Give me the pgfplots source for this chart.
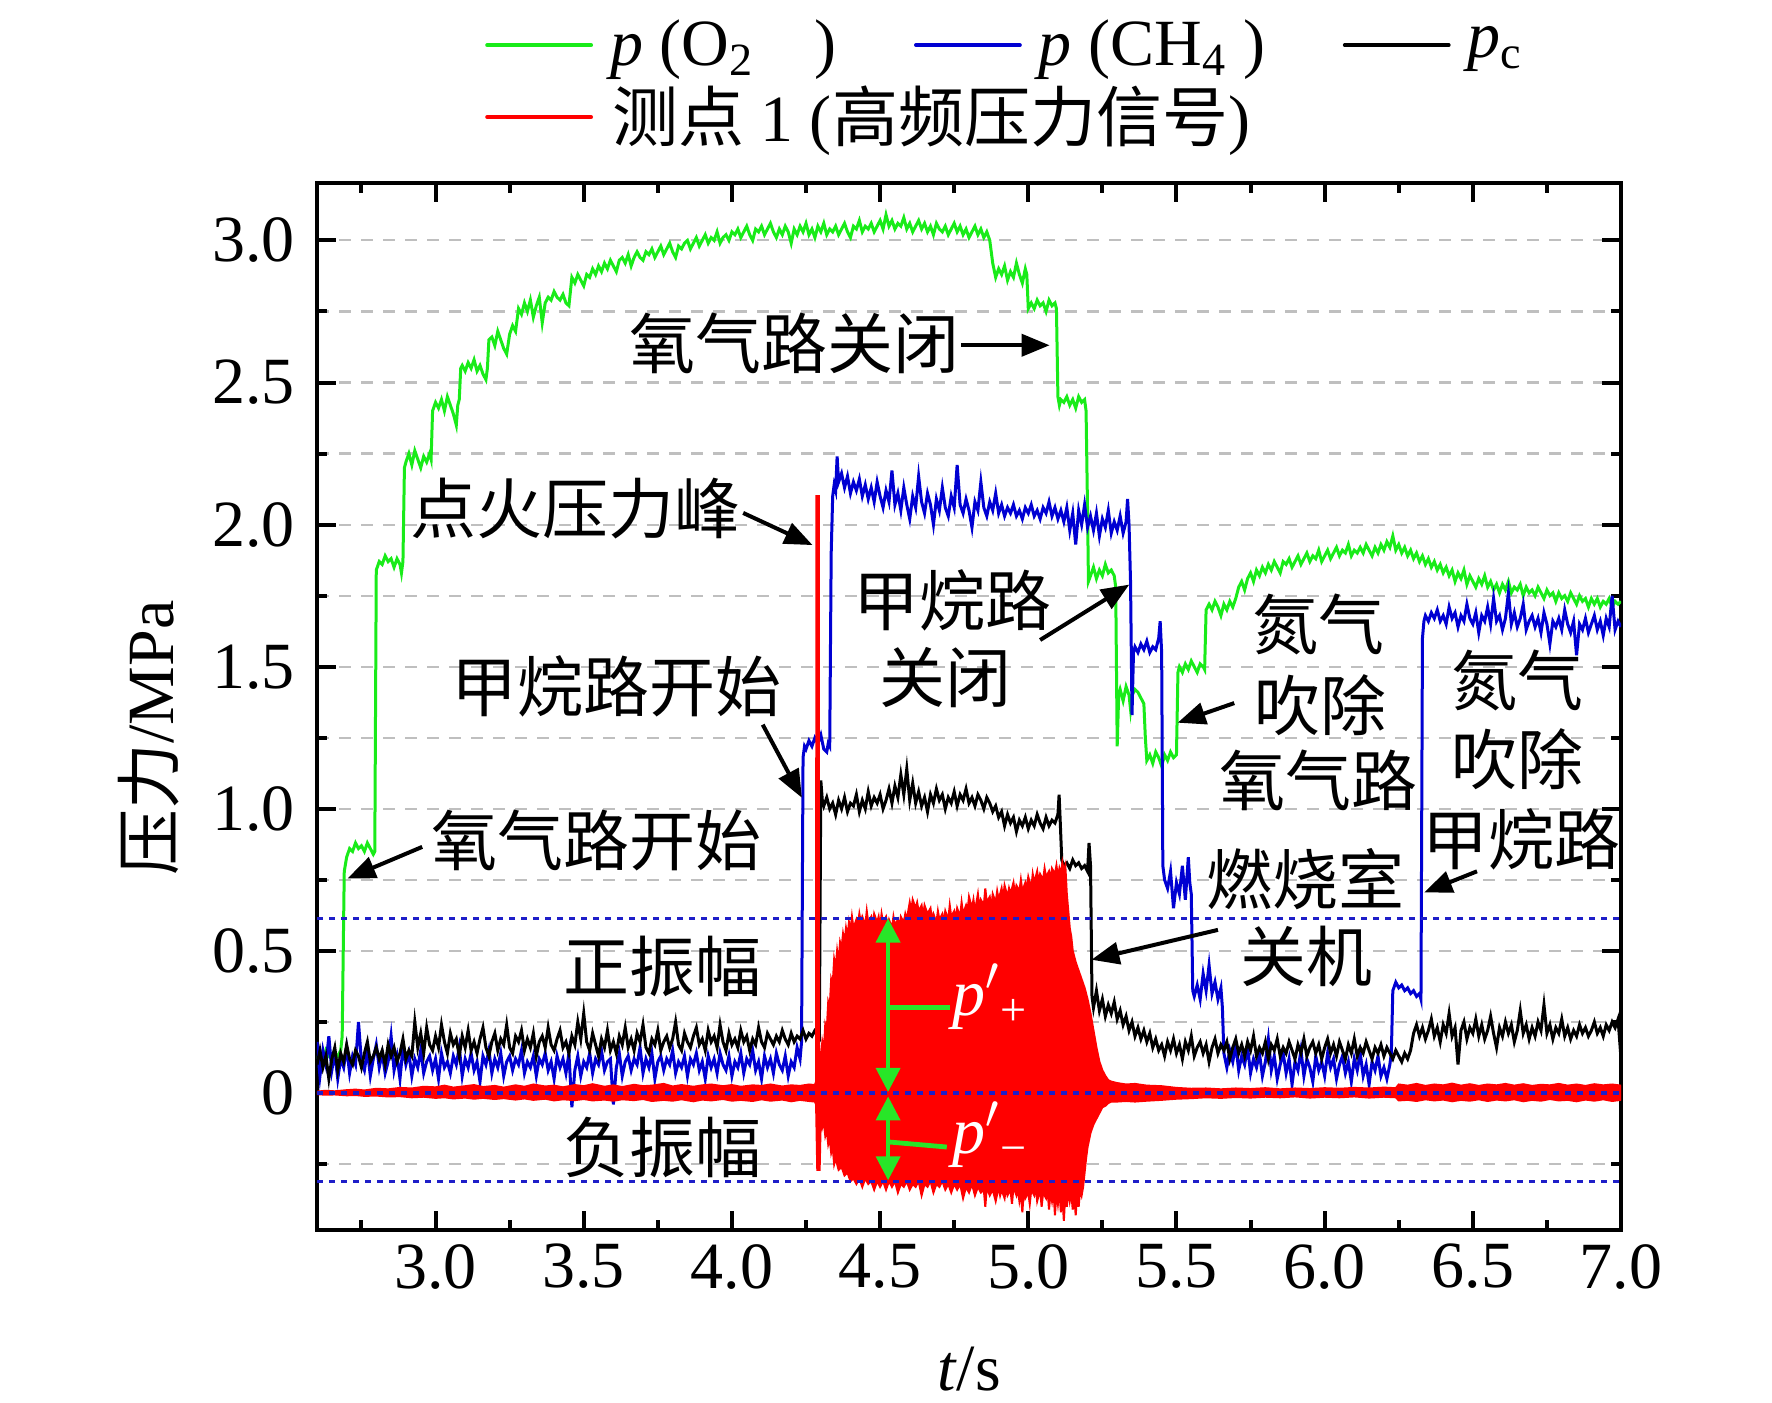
\documentclass[border=0pt]{standalone}
\usepackage{fontspec}
\setmainfont{Liberation Serif}
\newfontfamily\cjk{Noto Sans CJK SC}
\usepackage{pgfplots}
\pgfplotsset{compat=1.18}
\usetikzlibrary{arrows.meta}
\newcommand\fs{\fontsize{16.5}{19.8}\selectfont}
\definecolor{cgreen}{RGB}{25,235,25}
\definecolor{cblue}{RGB}{0,0,210}
\definecolor{cred}{RGB}{255,0,0}
\definecolor{cdot}{RGB}{30,30,200}
\definecolor{agreen}{RGB}{40,230,40}
\begin{document}
\begin{tikzpicture}
\begin{axis}[
  scale only axis, width=326pt, height=261.75pt,
  xmin=2.6, xmax=7.0, ymin=-0.482, ymax=3.202,
  clip mode=individual,
  xtick={3,3.5,4,4.5,5,5.5,6,6.5,7},
  xticklabels={3.0,3.5,4.0,4.5,5.0,5.5,6.0,6.5,7.0},
  ytick={0,0.5,1,1.5,2,2.5,3},
  yticklabels={0,0.5,1.0,1.5,2.0,2.5,3.0},
  minor xtick={2.75,3.25,3.75,4.25,4.75,5.25,5.75,6.25,6.75},
  minor ytick={-0.25,0.25,0.75,1.25,1.75,2.25,2.75},
  tick align=inside, xtick pos=both, ytick pos=both,
  xticklabel pos=bottom, yticklabel pos=left,
  major tick length=4.8pt, minor tick length=2.4pt,
  every tick/.append style={line width=1pt, black},
  axis line style={line width=1.2pt},
  ymajorgrids, yminorgrids,
  major grid style={dash pattern=on 3pt off 2.5pt, gray!50, line width=0.55pt},
  minor grid style={dash pattern=on 3pt off 2.5pt, gray!50, line width=0.55pt},
  tick label style={font=\fs},
  yticklabel style={xshift=-2pt},
  /pgf/number format/assume math mode=true,
  xlabel={\textit{t}/s}, ylabel={{\cjk 压力}/MPa},
  label style={font=\fs},
  xlabel style={at={(axis description cs:0.5,-0.133)}, anchor=center},
  ylabel style={at={(axis description cs:-0.129,0.47)}, anchor=center},
  legend image code/.code={\draw[#1, line cap=round] (0pt,0pt) -- (26pt,0pt);},
  legend columns=3, legend cell align=left,
  legend style={at={(axis description cs:0.1284,1.161)}, anchor=north west,
    draw=none, fill=none, inner sep=0pt, font=\fs, row sep=1.8pt,
    column sep=4.25pt, /tikz/every even column/.append style={column sep=18pt},
    nodes={inner xsep=0pt, inner ysep=1pt}},
]
\addlegendimage{cgreen, line width=0.95pt}
\addlegendentry{\makebox[58pt][l]{\textit{p} (O\textsubscript{2}\hspace{15pt})}}
\addlegendimage{cblue, line width=0.95pt}
\addlegendentry{\makebox[58pt][l]{\textit{p} (CH\textsubscript{4}\hspace{4pt})}}
\addlegendimage{black, line width=0.95pt}
\addlegendentry{\textit{p}\textsubscript{c}}
\addlegendimage{cred, line width=0.95pt}
\addlegendentry{\makebox[0pt][l]{{\cjk 测点} 1 ({\cjk 高频压力信号})}}

% p(O2)
\addplot[cgreen, line width=0.75pt, forget plot] coordinates {
(2.60,0.12)(2.61,0.14)(2.62,0.11)(2.63,0.15)(2.64,0.13)(2.65,0.12)(2.66,0.14)(2.67,0.13)(2.68,0.15)(2.685,0.20)
(2.69,0.62)(2.692,0.78)(2.70,0.83)(2.71,0.86)(2.72,0.85)(2.73,0.88)(2.74,0.86)(2.75,0.87)(2.76,0.85)(2.77,0.88)(2.78,0.86)(2.79,0.84)(2.795,0.85)
(2.80,1.84)(2.81,1.87)(2.82,1.86)(2.83,1.89)(2.84,1.87)(2.85,1.88)(2.86,1.85)(2.87,1.88)(2.88,1.86)(2.885,1.83)(2.89,1.87)
(2.895,2.20)(2.90,2.22)(2.91,2.25)(2.92,2.21)(2.93,2.26)(2.94,2.23)(2.95,2.20)(2.96,2.24)(2.97,2.22)(2.98,2.25)(2.985,2.23)
(2.99,2.40)(3.00,2.43)(3.01,2.41)(3.02,2.44)(3.03,2.40)(3.04,2.45)(3.05,2.42)(3.06,2.39)(3.07,2.35)(3.075,2.42)(3.08,2.44)
(3.085,2.55)(3.09,2.56)(3.10,2.54)(3.11,2.57)(3.12,2.55)(3.13,2.58)(3.14,2.54)(3.15,2.56)(3.16,2.53)(3.17,2.51)(3.175,2.55)
(3.18,2.65)(3.19,2.66)(3.20,2.63)(3.21,2.68)(3.22,2.65)(3.23,2.62)(3.24,2.60)(3.25,2.67)(3.26,2.70)(3.27,2.68)
(3.28,2.76)(3.29,2.74)(3.30,2.78)(3.31,2.75)(3.32,2.79)(3.33,2.73)(3.34,2.77)(3.35,2.80)(3.36,2.71)(3.37,2.78)(3.38,2.80)(3.39,2.79)
(3.40,2.82)(3.41,2.80)(3.42,2.79)(3.43,2.81)(3.44,2.78)(3.45,2.77)(3.46,2.87)(3.47,2.85)(3.48,2.88)(3.49,2.86)(3.50,2.84)
(3.51,2.88)(3.52,2.87)(3.53,2.90)(3.54,2.88)(3.55,2.91)(3.56,2.89)(3.57,2.92)(3.58,2.90)(3.59,2.93)(3.60,2.91)
(3.61,2.89)(3.62,2.93)(3.63,2.94)(3.64,2.92)(3.65,2.95)(3.66,2.91)(3.67,2.94)(3.68,2.96)(3.69,2.94)(3.70,2.93)
(3.71,2.96)(3.72,2.95)(3.73,2.97)(3.74,2.94)(3.75,2.96)(3.76,2.98)(3.77,2.95)(3.78,2.97)(3.79,2.99)(3.80,2.96)
(3.81,2.94)(3.82,2.98)(3.83,2.97)(3.84,2.99)(3.85,3.00)(3.86,2.97)(3.87,2.99)(3.88,3.01)(3.89,2.98)(3.90,3.00)
(3.91,3.02)(3.92,2.99)(3.93,3.01)(3.94,3.00)(3.95,3.03)(3.96,2.99)(3.97,3.01)(3.98,3.02)(3.99,3.00)(4.00,3.03)
(4.01,3.02)(4.02,3.04)(4.03,3.01)(4.04,3.03)(4.05,3.05)(4.06,3.02)(4.07,3.00)(4.08,3.04)(4.09,3.03)(4.10,3.05)
(4.11,3.02)(4.12,3.04)(4.13,3.06)(4.14,3.03)(4.15,3.01)(4.16,3.04)(4.17,3.02)(4.18,3.05)(4.19,3.03)(4.20,2.99)
(4.21,3.04)(4.22,3.02)(4.23,3.05)(4.24,3.03)(4.25,3.06)(4.26,3.02)(4.27,3.04)(4.28,3.01)(4.29,3.05)(4.30,3.03)
(4.31,3.06)(4.32,3.02)(4.33,3.04)(4.34,3.03)(4.35,3.05)(4.36,3.02)(4.37,3.04)(4.38,3.06)(4.39,3.03)(4.40,3.01)
(4.41,3.05)(4.42,3.04)(4.43,3.07)(4.44,3.03)(4.45,3.05)(4.46,3.04)(4.47,3.06)(4.48,3.03)(4.49,3.05)(4.50,3.07)
(4.51,3.04)(4.52,3.09)(4.53,3.05)(4.54,3.07)(4.55,3.04)(4.56,3.06)(4.57,3.05)(4.58,3.08)(4.59,3.04)(4.60,3.06)
(4.61,3.03)(4.62,3.05)(4.63,3.07)(4.64,3.04)(4.65,3.06)(4.66,3.03)(4.67,3.05)(4.68,3.02)(4.69,3.06)(4.70,3.04)
(4.71,3.03)(4.72,3.05)(4.73,3.02)(4.74,3.04)(4.75,3.06)(4.76,3.03)(4.77,3.05)(4.78,3.02)(4.79,3.04)(4.80,3.01)
(4.81,3.03)(4.82,3.05)(4.83,3.02)(4.84,3.04)(4.85,3.01)(4.86,3.03)(4.87,3.00)(4.875,2.96)(4.88,2.92)(4.89,2.87)
(4.90,2.90)(4.91,2.88)(4.92,2.91)(4.93,2.86)(4.94,2.89)(4.95,2.87)(4.96,2.92)(4.97,2.88)(4.98,2.85)(4.99,2.90)(4.995,2.88)
(5.00,2.76)(5.01,2.78)(5.02,2.76)(5.03,2.79)(5.04,2.77)(5.05,2.78)(5.06,2.75)(5.07,2.79)(5.08,2.77)(5.09,2.78)(5.095,2.76)
(5.10,2.45)(5.105,2.42)(5.11,2.44)(5.12,2.43)(5.13,2.45)(5.14,2.42)(5.15,2.44)(5.16,2.41)(5.17,2.45)(5.18,2.43)(5.19,2.44)(5.195,2.40)
(5.20,2.05)(5.203,1.80)(5.21,1.82)(5.22,1.85)(5.23,1.81)(5.24,1.84)(5.25,1.82)(5.26,1.86)(5.27,1.83)(5.28,1.84)(5.29,1.82)(5.295,1.78)
(5.30,1.22)(5.305,1.40)(5.31,1.42)(5.32,1.38)(5.33,1.43)(5.34,1.40)(5.345,1.35)(5.35,1.40)(5.36,1.42)(5.37,1.41)(5.38,1.39)(5.39,1.37)
(5.395,1.25)(5.40,1.17)(5.41,1.19)(5.42,1.16)(5.43,1.20)(5.44,1.18)(5.45,1.15)(5.46,1.19)(5.47,1.17)(5.48,1.20)(5.49,1.18)(5.50,1.19)
(5.505,1.48)(5.51,1.50)(5.52,1.48)(5.53,1.51)(5.54,1.49)(5.55,1.52)(5.56,1.50)(5.57,1.48)(5.58,1.51)(5.59,1.50)(5.595,1.49)
(5.60,1.70)(5.61,1.72)(5.62,1.70)(5.63,1.73)(5.64,1.71)(5.65,1.68)(5.66,1.72)(5.67,1.70)(5.68,1.73)(5.69,1.71)(5.70,1.74)
(5.71,1.78)(5.72,1.80)(5.73,1.77)(5.74,1.81)(5.75,1.83)(5.76,1.80)(5.77,1.84)(5.78,1.82)(5.79,1.85)(5.80,1.83)
(5.81,1.86)(5.82,1.84)(5.83,1.87)(5.84,1.85)(5.85,1.83)(5.86,1.87)(5.87,1.86)(5.88,1.88)(5.89,1.85)(5.90,1.87)
(5.91,1.89)(5.92,1.86)(5.93,1.88)(5.94,1.90)(5.95,1.87)(5.96,1.89)(5.97,1.88)(5.98,1.91)(5.99,1.87)(6.00,1.89)
(6.01,1.91)(6.02,1.88)(6.03,1.90)(6.04,1.92)(6.05,1.89)(6.06,1.91)(6.07,1.90)(6.08,1.93)(6.09,1.89)(6.10,1.91)
(6.11,1.90)(6.12,1.92)(6.13,1.90)(6.14,1.93)(6.15,1.91)(6.16,1.89)(6.17,1.92)(6.18,1.90)(6.19,1.93)(6.20,1.91)
(6.21,1.94)(6.22,1.92)(6.23,1.96)(6.24,1.91)(6.25,1.93)(6.26,1.90)(6.27,1.92)(6.28,1.89)(6.29,1.91)(6.30,1.88)
(6.31,1.90)(6.32,1.87)(6.33,1.89)(6.34,1.86)(6.35,1.88)(6.36,1.85)(6.37,1.87)(6.38,1.84)(6.39,1.86)(6.40,1.83)
(6.41,1.85)(6.42,1.82)(6.43,1.84)(6.44,1.80)(6.45,1.83)(6.46,1.81)(6.47,1.84)(6.48,1.79)(6.49,1.82)(6.50,1.80)
(6.51,1.78)(6.52,1.81)(6.53,1.79)(6.54,1.82)(6.55,1.78)(6.56,1.80)(6.57,1.77)(6.58,1.79)(6.59,1.76)(6.60,1.79)
(6.61,1.77)(6.62,1.80)(6.63,1.76)(6.64,1.78)(6.65,1.77)(6.66,1.79)(6.67,1.75)(6.68,1.78)(6.69,1.76)(6.70,1.77)
(6.71,1.75)(6.72,1.78)(6.73,1.76)(6.74,1.74)(6.75,1.77)(6.76,1.75)(6.77,1.76)(6.78,1.73)(6.79,1.76)(6.80,1.74)
(6.81,1.75)(6.82,1.73)(6.83,1.76)(6.84,1.74)(6.85,1.72)(6.86,1.75)(6.87,1.73)(6.88,1.74)(6.89,1.71)(6.90,1.74)
(6.91,1.72)(6.92,1.74)(6.93,1.71)(6.94,1.73)(6.95,1.72)(6.96,1.74)(6.97,1.71)(6.98,1.73)(6.99,1.72)(7.00,1.73)
};

% p(CH4)
\addplot[cblue, line width=0.75pt, forget plot] coordinates {
(2.60,0.18)(2.61,0.06)(2.62,0.15)(2.63,0.10)(2.64,0.20)(2.65,0.08)(2.66,0.14)(2.67,0.05)(2.68,0.12)(2.69,0.09)
(2.70,0.16)(2.71,0.07)(2.72,0.13)(2.73,0.10)(2.74,0.25)(2.75,0.11)(2.76,0.08)(2.77,0.15)(2.78,0.06)(2.79,0.12)
(2.80,0.17)(2.81,0.09)(2.82,0.14)(2.83,0.07)(2.84,0.11)(2.85,0.20)(2.86,0.08)(2.87,0.13)(2.88,0.05)(2.89,0.16)
(2.90,0.10)(2.91,0.14)(2.92,0.06)(2.93,0.12)(2.94,0.09)(2.95,0.15)(2.96,0.07)(2.97,0.11)(2.98,0.13)(2.99,0.08)
(3.00,0.12)(3.01,0.05)(3.02,0.14)(3.03,0.09)(3.04,0.11)(3.05,0.07)(3.06,0.13)(3.07,0.10)(3.08,0.16)(3.09,0.06)
(3.10,0.12)(3.11,0.09)(3.12,0.14)(3.13,0.08)(3.14,0.11)(3.15,0.04)(3.16,0.13)(3.17,0.10)(3.18,0.15)(3.19,0.07)
(3.20,0.12)(3.21,0.09)(3.22,0.14)(3.23,0.06)(3.24,0.11)(3.25,0.13)(3.26,0.08)(3.27,0.12)(3.28,0.10)(3.29,0.15)
(3.30,0.07)(3.31,0.11)(3.32,0.09)(3.33,0.13)(3.34,0.06)(3.35,0.12)(3.36,0.10)(3.37,0.14)(3.38,0.08)(3.39,0.11)
(3.40,0.05)(3.41,0.13)(3.42,0.09)(3.43,0.12)(3.44,0.07)(3.45,0.14)(3.46,-0.05)(3.47,0.08)(3.48,0.13)(3.49,0.06)
(3.50,0.11)(3.51,0.09)(3.52,0.14)(3.53,0.07)(3.54,0.12)(3.55,0.10)(3.56,0.15)(3.57,0.08)(3.58,0.11)(3.59,0.12)
(3.60,-0.04)(3.61,0.09)(3.62,0.14)(3.63,0.06)(3.64,0.11)(3.65,0.13)(3.66,0.08)(3.67,0.12)(3.68,0.10)(3.69,0.16)
(3.70,0.07)(3.71,0.12)(3.72,0.09)(3.73,0.14)(3.74,0.05)(3.75,0.11)(3.76,0.13)(3.77,0.08)(3.78,0.12)(3.79,0.10)
(3.80,0.15)(3.81,0.07)(3.82,0.11)(3.83,0.09)(3.84,0.13)(3.85,0.06)(3.86,0.12)(3.87,0.10)(3.88,0.14)(3.89,0.08)
(3.90,0.11)(3.91,0.05)(3.92,0.13)(3.93,0.09)(3.94,0.12)(3.95,0.07)(3.96,0.14)(3.97,0.10)(3.98,0.08)(3.99,0.13)
(4.00,0.06)(4.01,0.11)(4.02,0.09)(4.03,0.14)(4.04,0.07)(4.05,0.12)(4.06,0.10)(4.07,0.15)(4.08,0.08)(4.09,0.11)
(4.10,0.05)(4.11,0.13)(4.12,0.09)(4.13,0.12)(4.14,0.07)(4.15,0.14)(4.16,0.10)(4.17,0.08)(4.18,0.13)(4.19,0.06)
(4.20,0.11)(4.21,0.09)(4.22,0.16)(4.23,0.12)(4.235,0.18)
(4.24,1.18)(4.245,1.22)(4.25,1.21)(4.26,1.24)(4.27,1.22)(4.28,1.25)(4.29,1.23)(4.30,1.26)(4.31,1.21)(4.32,1.20)(4.325,1.23)(4.33,1.22)
(4.335,1.90)(4.34,2.10)(4.345,2.14)(4.35,2.12)(4.355,2.24)(4.36,2.15)(4.37,2.18)(4.38,2.13)(4.39,2.17)(4.40,2.11)
(4.41,2.15)(4.42,2.12)(4.43,2.16)(4.44,2.10)(4.45,2.14)(4.46,2.09)(4.47,2.13)(4.48,2.08)(4.49,2.15)(4.50,2.10)
(4.51,2.06)(4.52,2.12)(4.53,2.08)(4.54,2.19)(4.55,2.07)(4.56,2.11)(4.57,2.05)(4.58,2.13)(4.59,2.07)(4.60,2.02)
(4.61,2.10)(4.62,2.06)(4.63,2.17)(4.64,2.08)(4.65,2.04)(4.66,2.11)(4.67,2.07)(4.68,2.00)(4.69,2.09)(4.70,2.05)
(4.71,2.13)(4.72,2.06)(4.73,2.03)(4.74,2.10)(4.75,2.06)(4.76,2.21)(4.77,2.07)(4.78,2.04)(4.79,2.09)(4.80,2.05)
(4.81,1.99)(4.82,2.08)(4.83,2.05)(4.84,2.15)(4.85,2.06)(4.86,2.03)(4.87,2.08)(4.88,2.05)(4.89,2.11)(4.90,2.04)
(4.91,2.07)(4.92,2.03)(4.93,2.06)(4.94,2.04)(4.95,2.07)(4.96,2.03)(4.97,2.05)(4.98,2.02)(4.99,2.06)(5.00,2.04)
(5.01,2.07)(5.02,2.03)(5.03,2.05)(5.04,2.02)(5.05,2.06)(5.06,2.04)(5.07,2.08)(5.08,2.03)(5.09,2.06)(5.10,2.02)
(5.11,2.05)(5.12,2.01)(5.13,2.06)(5.14,1.98)(5.15,2.04)(5.16,1.93)(5.17,2.05)(5.18,2.00)(5.19,2.07)(5.20,1.99)
(5.21,2.03)(5.22,1.98)(5.23,2.04)(5.24,1.96)(5.25,2.02)(5.26,1.99)(5.27,2.05)(5.28,1.97)(5.29,2.01)(5.30,1.98)
(5.31,2.03)(5.32,1.97)(5.33,2.01)(5.335,2.09)(5.34,2.00)(5.345,1.80)
(5.35,1.33)(5.355,1.55)(5.36,1.57)(5.37,1.55)(5.38,1.58)(5.39,1.56)(5.40,1.59)(5.41,1.55)(5.42,1.57)(5.43,1.56)(5.44,1.60)(5.445,1.66)(5.45,1.55)
(5.454,0.80)(5.46,0.75)(5.47,0.72)(5.48,0.78)(5.49,0.65)(5.50,0.74)(5.51,0.70)(5.52,0.80)(5.53,0.68)(5.54,0.83)(5.545,0.74)(5.55,0.70)
(5.555,0.36)(5.56,0.34)(5.57,0.38)(5.58,0.33)(5.59,0.42)(5.60,0.36)(5.61,0.45)(5.62,0.35)(5.63,0.39)(5.64,0.33)(5.65,0.37)(5.655,0.30)
(5.66,0.14)(5.67,0.09)(5.68,0.15)(5.69,0.11)(5.70,0.17)(5.71,0.08)(5.72,0.13)(5.73,0.10)(5.74,0.16)(5.75,0.07)
(5.76,0.12)(5.77,0.09)(5.78,0.14)(5.79,0.06)(5.80,0.11)(5.81,0.19)(5.82,0.08)(5.83,0.13)(5.84,0.05)(5.85,0.10)
(5.86,0.14)(5.87,0.07)(5.88,0.12)(5.89,0.03)(5.90,0.11)(5.91,0.08)(5.92,0.15)(5.93,0.06)(5.94,0.12)(5.95,0.09)
(5.96,0.04)(5.97,0.13)(5.98,0.08)(5.99,0.11)(6.00,0.06)(6.01,0.14)(6.02,0.09)(6.03,0.12)(6.04,0.05)(6.05,0.10)
(6.06,0.13)(6.07,0.07)(6.08,0.11)(6.09,0.04)(6.10,0.12)(6.11,0.08)(6.12,0.14)(6.13,0.06)(6.14,0.10)(6.15,0.03)
(6.16,0.11)(6.17,0.08)(6.18,0.13)(6.19,0.06)(6.20,0.09)(6.21,0.05)(6.22,0.10)(6.225,0.14)
(6.23,0.36)(6.24,0.39)(6.25,0.37)(6.26,0.38)(6.27,0.36)(6.28,0.37)(6.29,0.35)(6.30,0.36)(6.31,0.34)(6.32,0.35)(6.325,0.33)
(6.33,1.60)(6.335,1.66)(6.34,1.68)(6.35,1.66)(6.36,1.69)(6.37,1.67)(6.38,1.70)(6.39,1.66)(6.40,1.68)(6.41,1.65)
(6.42,1.71)(6.43,1.67)(6.44,1.69)(6.45,1.64)(6.46,1.68)(6.47,1.66)(6.48,1.72)(6.49,1.67)(6.50,1.65)(6.51,1.69)
(6.52,1.62)(6.53,1.68)(6.54,1.66)(6.55,1.71)(6.56,1.65)(6.57,1.74)(6.58,1.66)(6.59,1.68)(6.60,1.63)(6.61,1.67)
(6.62,1.76)(6.63,1.65)(6.64,1.69)(6.65,1.64)(6.66,1.67)(6.67,1.72)(6.68,1.63)(6.69,1.66)(6.70,1.68)(6.71,1.64)
(6.72,1.67)(6.73,1.62)(6.74,1.69)(6.75,1.65)(6.76,1.58)(6.77,1.66)(6.78,1.64)(6.79,1.67)(6.80,1.63)(6.81,1.70)
(6.82,1.65)(6.83,1.62)(6.84,1.66)(6.85,1.54)(6.86,1.65)(6.87,1.63)(6.88,1.67)(6.89,1.62)(6.90,1.65)(6.91,1.68)
(6.92,1.63)(6.93,1.66)(6.94,1.61)(6.95,1.67)(6.96,1.64)(6.97,1.75)(6.98,1.63)(6.99,1.66)(7.00,1.64)
};

% p_c
\addplot[black, line width=0.75pt, forget plot] coordinates {
(2.60,0.10)(2.61,0.15)(2.62,0.09)(2.63,0.13)(2.64,0.05)(2.65,0.12)(2.66,0.16)(2.67,0.08)(2.68,0.14)(2.69,0.11)
(2.70,0.17)(2.71,0.12)(2.72,0.10)(2.73,0.15)(2.74,0.13)(2.75,0.09)(2.76,0.14)(2.77,0.18)(2.78,0.11)(2.79,0.13)
(2.80,0.16)(2.81,0.12)(2.82,0.15)(2.83,0.10)(2.84,0.17)(2.85,0.13)(2.86,0.16)(2.87,0.11)(2.88,0.14)(2.89,0.19)
(2.90,0.12)(2.91,0.15)(2.92,0.13)(2.93,0.25)(2.94,0.16)(2.95,0.21)(2.96,0.14)(2.97,0.23)(2.98,0.17)(2.99,0.15)
(3.00,0.20)(3.01,0.16)(3.02,0.24)(3.03,0.18)(3.04,0.14)(3.05,0.21)(3.06,0.17)(3.07,0.19)(3.08,0.13)(3.09,0.20)
(3.10,0.16)(3.11,0.22)(3.12,0.15)(3.13,0.18)(3.14,0.14)(3.15,0.19)(3.16,0.23)(3.17,0.16)(3.18,0.13)(3.19,0.18)
(3.20,0.21)(3.21,0.15)(3.22,0.19)(3.23,0.17)(3.24,0.24)(3.25,0.16)(3.26,0.14)(3.27,0.20)(3.28,0.18)(3.29,0.22)
(3.30,0.15)(3.31,0.19)(3.32,0.16)(3.33,0.21)(3.34,0.13)(3.35,0.18)(3.36,0.20)(3.37,0.16)(3.38,0.23)(3.39,0.17)
(3.40,0.15)(3.41,0.19)(3.42,0.22)(3.43,0.16)(3.44,0.18)(3.45,0.14)(3.46,0.20)(3.47,0.17)(3.48,0.25)(3.49,0.19)
(3.50,0.28)(3.51,0.18)(3.52,0.15)(3.53,0.21)(3.54,0.17)(3.55,0.13)(3.56,0.19)(3.57,0.16)(3.58,0.22)(3.59,0.15)
(3.60,0.18)(3.61,0.14)(3.62,0.20)(3.63,0.17)(3.64,0.23)(3.65,0.16)(3.66,0.19)(3.67,0.15)(3.68,0.21)(3.69,0.18)
(3.70,0.24)(3.71,0.16)(3.72,0.14)(3.73,0.19)(3.74,0.17)(3.75,0.22)(3.76,0.15)(3.77,0.18)(3.78,0.20)(3.79,0.16)
(3.80,0.19)(3.81,0.25)(3.82,0.17)(3.83,0.15)(3.84,0.21)(3.85,0.18)(3.86,0.16)(3.87,0.20)(3.88,0.23)(3.89,0.17)
(3.90,0.19)(3.91,0.15)(3.92,0.22)(3.93,0.18)(3.94,0.20)(3.95,0.16)(3.96,0.24)(3.97,0.18)(3.98,0.15)(3.99,0.21)
(4.00,0.17)(4.01,0.19)(4.02,0.16)(4.03,0.22)(4.04,0.18)(4.05,0.20)(4.06,0.15)(4.07,0.19)(4.08,0.17)(4.09,0.23)
(4.10,0.18)(4.11,0.16)(4.12,0.21)(4.13,0.19)(4.14,0.17)(4.15,0.20)(4.16,0.18)(4.17,0.22)(4.18,0.19)(4.19,0.17)
(4.20,0.21)(4.21,0.18)(4.22,0.20)(4.23,0.19)(4.24,0.22)(4.25,0.19)(4.26,0.21)(4.27,0.20)(4.28,0.22)(4.29,0.21)(4.295,0.20)
(4.30,1.10)(4.305,1.03)(4.31,1.01)(4.32,1.04)(4.33,1.00)(4.34,1.02)(4.35,0.98)(4.36,1.03)(4.37,1.00)(4.38,1.04)
(4.39,0.99)(4.40,1.02)(4.41,1.01)(4.42,1.05)(4.43,0.99)(4.44,1.03)(4.45,1.00)(4.46,1.06)(4.47,1.01)(4.48,1.04)
(4.49,1.02)(4.50,1.05)(4.51,1.00)(4.52,1.03)(4.53,1.07)(4.54,1.02)(4.55,1.08)(4.56,1.04)(4.57,1.12)(4.58,1.05)
(4.59,1.14)(4.60,1.03)(4.61,1.09)(4.62,1.02)(4.63,1.06)(4.64,1.01)(4.65,1.04)(4.66,0.99)(4.67,1.05)(4.68,1.02)
(4.69,1.07)(4.70,1.03)(4.71,1.05)(4.72,1.00)(4.73,1.04)(4.74,1.02)(4.75,1.06)(4.76,1.01)(4.77,1.05)(4.78,1.03)
(4.79,1.07)(4.80,1.02)(4.81,1.04)(4.82,1.01)(4.83,1.05)(4.84,1.03)(4.85,1.00)(4.86,1.04)(4.87,1.02)(4.88,0.99)
(4.89,1.01)(4.90,0.97)(4.91,0.99)(4.92,0.94)(4.93,0.98)(4.94,0.95)(4.95,0.97)(4.96,0.92)(4.97,0.96)(4.98,0.94)
(4.99,0.97)(5.00,0.93)(5.01,0.96)(5.02,0.94)(5.03,0.98)(5.04,0.95)(5.05,0.93)(5.06,0.97)(5.07,0.94)(5.08,0.96)
(5.09,0.95)(5.10,0.98)(5.104,1.05)(5.108,0.95)
(5.113,0.82)(5.12,0.80)(5.13,0.81)(5.14,0.79)(5.15,0.82)(5.16,0.80)(5.17,0.81)(5.18,0.79)(5.19,0.80)(5.20,0.78)(5.205,0.88)(5.21,0.80)
(5.215,0.34)(5.22,0.30)(5.23,0.36)(5.24,0.29)(5.25,0.33)(5.26,0.27)(5.27,0.31)(5.28,0.28)(5.29,0.32)(5.30,0.26)
(5.31,0.29)(5.32,0.24)(5.33,0.27)(5.34,0.22)(5.35,0.25)(5.36,0.20)(5.37,0.23)(5.38,0.19)(5.39,0.22)(5.40,0.18)
(5.41,0.21)(5.42,0.16)(5.43,0.19)(5.44,0.15)(5.45,0.17)(5.46,0.13)(5.47,0.18)(5.48,0.15)(5.49,0.19)(5.50,0.14)
(5.51,0.17)(5.52,0.12)(5.53,0.18)(5.54,0.15)(5.55,0.20)(5.56,0.13)(5.57,0.16)(5.58,0.18)(5.59,0.14)(5.60,0.17)
(5.61,0.11)(5.62,0.16)(5.63,0.19)(5.64,0.14)(5.65,0.17)(5.66,0.15)(5.67,0.18)(5.68,0.12)(5.69,0.16)(5.70,0.19)
(5.71,0.14)(5.72,0.17)(5.73,0.13)(5.74,0.18)(5.75,0.15)(5.76,0.20)(5.77,0.13)(5.78,0.16)(5.79,0.14)(5.80,0.18)
(5.81,0.12)(5.82,0.17)(5.83,0.15)(5.84,0.19)(5.85,0.13)(5.86,0.16)(5.87,0.14)(5.88,0.18)(5.89,0.15)(5.90,0.12)
(5.91,0.17)(5.92,0.14)(5.93,0.19)(5.94,0.13)(5.95,0.16)(5.96,0.18)(5.97,0.14)(5.98,0.17)(5.99,0.12)(6.00,0.16)
(6.01,0.19)(6.02,0.14)(6.03,0.17)(6.04,0.13)(6.05,0.18)(6.06,0.15)(6.07,0.12)(6.08,0.17)(6.09,0.14)(6.10,0.19)
(6.11,0.13)(6.12,0.16)(6.13,0.14)(6.14,0.18)(6.15,0.15)(6.16,0.12)(6.17,0.16)(6.18,0.14)(6.19,0.17)(6.20,0.13)
(6.21,0.16)(6.22,0.14)(6.23,0.12)(6.24,0.15)(6.25,0.13)(6.26,0.11)(6.27,0.14)(6.28,0.12)(6.29,0.15)(6.30,0.21)
(6.31,0.24)(6.32,0.20)(6.33,0.23)(6.34,0.19)(6.35,0.22)(6.36,0.26)(6.37,0.20)(6.38,0.23)(6.39,0.18)(6.40,0.24)
(6.41,0.21)(6.42,0.28)(6.43,0.20)(6.44,0.23)(6.45,0.10)(6.46,0.22)(6.47,0.25)(6.48,0.19)(6.49,0.23)(6.50,0.21)
(6.51,0.26)(6.52,0.20)(6.53,0.24)(6.54,0.19)(6.55,0.22)(6.56,0.27)(6.57,0.21)(6.58,0.16)(6.59,0.23)(6.60,0.20)
(6.61,0.25)(6.62,0.21)(6.63,0.24)(6.64,0.18)(6.65,0.22)(6.66,0.29)(6.67,0.21)(6.68,0.24)(6.69,0.19)(6.70,0.23)
(6.71,0.20)(6.72,0.25)(6.73,0.22)(6.74,0.31)(6.75,0.21)(6.76,0.24)(6.77,0.19)(6.78,0.23)(6.79,0.21)(6.80,0.26)
(6.81,0.20)(6.82,0.23)(6.83,0.19)(6.84,0.22)(6.85,0.20)(6.86,0.24)(6.87,0.21)(6.88,0.23)(6.89,0.20)(6.90,0.22)
(6.91,0.25)(6.92,0.21)(6.93,0.23)(6.94,0.20)(6.95,0.24)(6.96,0.22)(6.97,0.25)(6.98,0.23)(6.99,0.26)(7.00,0.12)
};

% high-frequency pressure signal (envelope of the oscillation)
\addplot[cred, fill=cred, line width=0.5pt, forget plot] coordinates {
(2.60,0.005)(2.63,0.008)(2.66,0.006)(2.70,0.010)(2.73,0.012)(2.76,0.009)(2.80,0.015)(2.84,0.013)(2.88,0.018)(2.92,0.016)
(2.96,0.022)(3.00,0.020)(3.03,0.026)(3.06,0.019)(3.10,0.024)(3.13,0.028)(3.16,0.021)(3.20,0.025)(3.23,0.019)(3.27,0.027)
(3.30,0.022)(3.33,0.030)(3.37,0.023)(3.40,0.026)(3.43,0.020)(3.47,0.028)(3.50,0.024)(3.53,0.031)(3.57,0.022)(3.60,0.027)
(3.63,0.021)(3.67,0.029)(3.70,0.024)(3.73,0.026)(3.77,0.032)(3.80,0.023)(3.83,0.028)(3.87,0.022)(3.90,0.027)(3.93,0.030)
(3.97,0.024)(4.00,0.028)(4.03,0.022)(4.07,0.027)(4.10,0.025)(4.13,0.030)(4.17,0.023)(4.20,0.027)(4.23,0.025)(4.26,0.030)
(4.280,0.028)(4.284,0.04)(4.285,2.10)(4.293,2.10)(4.294,0.08)
(4.30,0.12)(4.305,0.18)(4.31,0.15)(4.315,0.24)(4.32,0.22)(4.325,0.32)(4.33,0.30)(4.335,0.40)(4.34,0.38)(4.345,0.47)
(4.35,0.44)(4.355,0.50)(4.36,0.46)(4.365,0.53)(4.37,0.51)(4.375,0.56)(4.38,0.53)(4.385,0.58)(4.39,0.55)(4.395,0.60)
(4.40,0.57)(4.405,0.62)(4.41,0.58)(4.42,0.61)(4.425,0.59)(4.43,0.63)(4.435,0.60)(4.44,0.62)(4.45,0.59)(4.455,0.64)
(4.46,0.60)(4.47,0.62)(4.475,0.59)(4.48,0.63)(4.49,0.60)(4.495,0.62)(4.50,0.58)(4.505,0.63)(4.51,0.60)(4.52,0.62)
(4.525,0.59)(4.53,0.61)(4.54,0.58)(4.545,0.62)(4.55,0.59)(4.56,0.61)(4.565,0.58)(4.57,0.62)(4.58,0.60)(4.585,0.63)
(4.59,0.61)(4.60,0.67)(4.605,0.64)(4.61,0.68)(4.62,0.65)(4.625,0.67)(4.63,0.64)(4.64,0.66)(4.645,0.62)(4.65,0.66)
(4.66,0.63)(4.67,0.65)(4.675,0.61)(4.68,0.63)(4.69,0.60)(4.695,0.64)(4.70,0.61)(4.71,0.63)(4.715,0.60)(4.72,0.64)
(4.73,0.61)(4.735,0.66)(4.74,0.62)(4.75,0.64)(4.755,0.61)(4.76,0.65)(4.77,0.62)(4.775,0.67)(4.78,0.63)(4.79,0.66)
(4.795,0.64)(4.80,0.69)(4.81,0.65)(4.815,0.68)(4.82,0.64)(4.83,0.70)(4.835,0.65)(4.84,0.68)(4.85,0.66)(4.855,0.72)
(4.86,0.67)(4.87,0.69)(4.875,0.65)(4.88,0.70)(4.89,0.67)(4.895,0.71)(4.90,0.68)(4.91,0.72)(4.915,0.68)(4.92,0.73)
(4.93,0.69)(4.935,0.72)(4.94,0.70)(4.95,0.74)(4.955,0.70)(4.96,0.73)(4.97,0.71)(4.975,0.75)(4.98,0.71)(4.99,0.74)
(4.995,0.72)(5.00,0.76)(5.01,0.72)(5.015,0.77)(5.02,0.74)(5.03,0.78)(5.035,0.74)(5.04,0.77)(5.05,0.75)(5.055,0.79)
(5.06,0.76)(5.07,0.78)(5.075,0.75)(5.08,0.79)(5.09,0.77)(5.095,0.80)(5.10,0.76)(5.105,0.79)(5.11,0.77)(5.115,0.81)
(5.12,0.78)(5.125,0.80)(5.13,0.70)(5.135,0.64)(5.14,0.58)(5.145,0.55)(5.15,0.50)(5.155,0.48)(5.16,0.46)(5.17,0.43)
(5.18,0.40)(5.19,0.37)(5.20,0.33)(5.21,0.28)(5.22,0.22)(5.23,0.16)(5.24,0.11)(5.25,0.08)(5.26,0.06)(5.27,0.045)
(5.28,0.04)(5.30,0.035)(5.33,0.03)(5.36,0.032)(5.40,0.026)(5.45,0.024)(5.50,0.018)(5.55,0.015)(5.60,0.016)(5.65,0.013)
(5.70,0.016)(5.75,0.014)(5.80,0.017)(5.85,0.013)(5.90,0.016)(5.95,0.014)(6.00,0.017)(6.05,0.015)(6.10,0.018)(6.15,0.016)
(6.20,0.019)(6.24,0.017)(6.25,0.030)(6.28,0.026)(6.31,0.032)(6.34,0.025)(6.37,0.030)(6.40,0.027)(6.43,0.033)(6.46,0.026)
(6.49,0.031)(6.52,0.025)(6.55,0.030)(6.58,0.027)(6.61,0.032)(6.64,0.026)(6.67,0.031)(6.70,0.025)(6.73,0.029)(6.76,0.027)
(6.79,0.032)(6.82,0.026)(6.85,0.030)(6.88,0.025)(6.91,0.031)(6.94,0.027)(6.97,0.030)(7.00,0.026)
(7.00,-0.024)(6.97,-0.028)(6.94,-0.022)(6.91,-0.027)(6.88,-0.023)(6.85,-0.029)(6.82,-0.024)(6.79,-0.026)(6.76,-0.021)(6.73,-0.027)
(6.70,-0.024)(6.67,-0.029)(6.64,-0.022)(6.61,-0.026)(6.58,-0.023)(6.55,-0.028)(6.52,-0.022)(6.49,-0.027)(6.46,-0.024)(6.43,-0.029)
(6.40,-0.023)(6.37,-0.026)(6.34,-0.022)(6.31,-0.028)(6.28,-0.024)(6.25,-0.026)(6.24,-0.015)(6.20,-0.013)(6.15,-0.016)(6.10,-0.012)
(6.05,-0.015)(6.00,-0.013)(5.95,-0.016)(5.90,-0.012)(5.85,-0.015)(5.80,-0.013)(5.75,-0.016)(5.70,-0.014)(5.65,-0.017)(5.60,-0.015)
(5.55,-0.018)(5.50,-0.020)(5.45,-0.024)(5.40,-0.027)(5.36,-0.030)(5.33,-0.028)(5.30,-0.030)(5.28,-0.03)(5.27,-0.035)(5.26,-0.045)
(5.25,-0.05)(5.24,-0.07)(5.23,-0.09)(5.22,-0.11)(5.21,-0.14)(5.20,-0.19)(5.195,-0.23)(5.19,-0.28)(5.185,-0.33)(5.18,-0.36)
(5.175,-0.34)(5.17,-0.40)(5.165,-0.35)(5.16,-0.43)(5.155,-0.36)(5.15,-0.41)(5.145,-0.35)(5.14,-0.38)(5.135,-0.34)(5.13,-0.40)
(5.125,-0.35)(5.12,-0.45)(5.115,-0.36)(5.11,-0.42)(5.105,-0.34)(5.10,-0.39)(5.095,-0.35)(5.09,-0.43)(5.085,-0.34)(5.08,-0.38)
(5.075,-0.35)(5.07,-0.41)(5.065,-0.34)(5.06,-0.37)(5.05,-0.35)(5.045,-0.40)(5.04,-0.34)(5.03,-0.38)(5.025,-0.33)(5.02,-0.36)
(5.01,-0.34)(5.005,-0.39)(5.00,-0.35)(4.99,-0.37)(4.985,-0.34)(4.98,-0.42)(4.975,-0.35)(4.97,-0.38)(4.965,-0.34)(4.96,-0.36)
(4.95,-0.33)(4.945,-0.39)(4.94,-0.34)(4.93,-0.36)(4.925,-0.33)(4.92,-0.37)(4.91,-0.34)(4.905,-0.36)(4.90,-0.33)(4.89,-0.38)
(4.88,-0.34)(4.87,-0.36)(4.86,-0.33)(4.855,-0.40)(4.85,-0.34)(4.84,-0.35)(4.83,-0.33)(4.82,-0.36)(4.81,-0.32)(4.80,-0.35)
(4.79,-0.33)(4.78,-0.37)(4.77,-0.32)(4.76,-0.34)(4.75,-0.32)(4.74,-0.35)(4.73,-0.32)(4.72,-0.34)(4.71,-0.31)(4.70,-0.33)
(4.69,-0.32)(4.68,-0.35)(4.67,-0.31)(4.66,-0.33)(4.65,-0.32)(4.64,-0.36)(4.63,-0.31)(4.62,-0.33)(4.61,-0.32)(4.60,-0.34)
(4.59,-0.31)(4.58,-0.33)(4.57,-0.32)(4.56,-0.35)(4.55,-0.31)(4.54,-0.33)(4.53,-0.31)(4.52,-0.34)(4.51,-0.31)(4.50,-0.33)
(4.49,-0.31)(4.48,-0.34)(4.47,-0.31)(4.46,-0.32)(4.45,-0.30)(4.44,-0.33)(4.43,-0.30)(4.42,-0.32)(4.41,-0.30)(4.40,-0.31)
(4.39,-0.28)(4.38,-0.29)(4.37,-0.26)(4.36,-0.27)(4.35,-0.23)(4.345,-0.25)(4.34,-0.19)(4.335,-0.21)(4.33,-0.16)(4.325,-0.18)
(4.32,-0.13)(4.315,-0.15)(4.31,-0.10)(4.305,-0.12)(4.30,-0.08)(4.296,-0.27)(4.288,-0.27)(4.284,-0.04)(4.280,-0.03)
(4.26,-0.028)(4.23,-0.024)(4.20,-0.029)(4.17,-0.023)(4.13,-0.027)(4.10,-0.022)(4.07,-0.028)(4.03,-0.024)(4.00,-0.027)(3.97,-0.021)
(3.93,-0.026)(3.90,-0.023)(3.87,-0.029)(3.83,-0.022)(3.80,-0.027)(3.77,-0.024)(3.73,-0.028)(3.70,-0.021)(3.67,-0.025)(3.63,-0.022)
(3.60,-0.027)(3.57,-0.023)(3.53,-0.026)(3.50,-0.021)(3.47,-0.025)(3.43,-0.022)(3.40,-0.026)(3.37,-0.020)(3.33,-0.024)(3.30,-0.019)
(3.27,-0.023)(3.23,-0.018)(3.20,-0.021)(3.16,-0.017)(3.13,-0.020)(3.10,-0.016)(3.06,-0.019)(3.03,-0.015)(3.00,-0.017)(2.96,-0.013)
(2.92,-0.015)(2.88,-0.011)(2.84,-0.012)(2.80,-0.009)(2.76,-0.010)(2.73,-0.007)(2.70,-0.008)(2.66,-0.005)(2.63,-0.006)(2.60,-0.004)
} -- cycle;

% amplitude reference lines
\addplot[cdot, line width=0.8pt, dash pattern=on 1.6pt off 1.4pt, forget plot] coordinates {(2.6,0.615)(7.0,0.615)};
\addplot[cdot, line width=0.8pt, dash pattern=on 1.6pt off 1.4pt, forget plot] coordinates {(2.6,0)(7.0,0)};
\addplot[cdot, line width=0.8pt, dash pattern=on 1.6pt off 1.4pt, forget plot] coordinates {(2.6,-0.31)(7.0,-0.31)};

% amplitude arrows
\draw[agreen, line width=1pt, {Triangle[length=6pt,width=6pt]}-{Triangle[length=6pt,width=6pt]}] (axis cs:4.527,0.614) -- (axis cs:4.527,0.004);
\draw[agreen, line width=1pt, {Triangle[length=6pt,width=6pt]}-{Triangle[length=6pt,width=6pt]}] (axis cs:4.527,-0.012) -- (axis cs:4.527,-0.307);
\draw[agreen, line width=1.2pt] (axis cs:4.527,0.30) -- (axis cs:4.736,0.30);
\draw[agreen, line width=1.2pt] (axis cs:4.527,-0.172) -- (axis cs:4.725,-0.19);
\node[white, anchor=base west, font=\fs, inner sep=0pt] at (axis cs:4.742,0.274) {\textit{p}$'$\textsubscript{+}};
\node[white, anchor=base west, font=\fs, inner sep=0pt] at (axis cs:4.742,-0.213) {\textit{p}$'$\textsubscript{−}};

% annotations
\begin{scope}[every node/.style={font=\fs\cjk, inner sep=0pt}]
\node at (axis cs:3.544,0.887) {氧气路开始};
\node at (axis cs:3.610,1.432) {甲烷路开始};
\node at (axis cs:3.472,2.055) {点火压力峰};
\node at (axis cs:4.210,2.636) {氧气路关闭};
\node at (axis cs:4.745,1.734) {甲烷路};
\node at (axis cs:4.722,1.462) {关闭};
\node at (axis cs:5.980,1.647) {氮气};
\node at (axis cs:5.985,1.365) {吹除};
\node at (axis cs:5.980,1.099) {氧气路};
\node at (axis cs:5.935,0.754) {燃烧室};
\node at (axis cs:5.940,0.480) {关机};
\node at (axis cs:6.650,1.450) {氮气};
\node at (axis cs:6.650,1.176) {吹除};
\node at (axis cs:6.664,0.894) {甲烷路};
\node at (axis cs:3.767,0.446) {正振幅};
\node at (axis cs:3.767,-0.190) {负振幅};
\end{scope}
\begin{scope}[line width=1pt, -{Triangle[length=7pt,width=5.5pt]}]
\draw (axis cs:2.955,0.866) -- (axis cs:2.703,0.755);
\draw (axis cs:4.104,1.296) -- (axis cs:4.236,1.039);
\draw (axis cs:4.038,2.041) -- (axis cs:4.272,1.928);
\draw (axis cs:4.773,2.631) -- (axis cs:5.072,2.631);
\draw (axis cs:5.040,1.594) -- (axis cs:5.341,1.789);
\draw (axis cs:5.695,1.372) -- (axis cs:5.504,1.303);
\draw (axis cs:5.640,0.574) -- (axis cs:5.213,0.469);
\draw (axis cs:6.514,0.780) -- (axis cs:6.336,0.706);
\end{scope}
\end{axis}
\pgfresetboundingbox
\path[use as bounding box] ([shift={(-79.25pt,-43pt)}]current axis.south west) rectangle ([shift={(37.75pt,45.75pt)}]current axis.north east);
\end{tikzpicture}
\end{document}
